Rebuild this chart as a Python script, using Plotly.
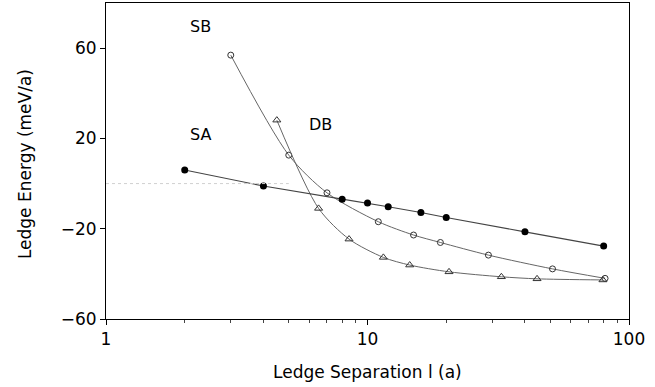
import plotly.graph_objects as go

# Data
sa_x = [2, 4, 8, 10, 12, 16, 20, 40, 80]
sa_y = [6.0, -1.1, -6.9, -8.6, -10.3, -12.8, -15.0, -21.4, -27.7]

sb_x = [3, 5, 7, 11, 15, 19, 29, 51, 81]
sb_y = [56.9, 12.6, -4.1, -16.9, -22.8, -26.1, -31.7, -37.8, -42.0]

db_x = [4.5, 6.5, 8.5, 11.5, 14.5, 20.5, 32.5, 44.5, 79.5]
db_y = [28.1, -11.0, -24.6, -32.7, -36.1, -39.1, -41.3, -42.2, -42.7]

y_ticks = [-60, -20, 20, 60]
x_ticks = [1, 10, 100]

FONT = "DejaVu Sans"

fig = go.Figure()
fig.add_trace(go.Scatter(
    x=sb_x, y=sb_y, mode="lines+markers",
    line=dict(color="#666666", width=1, shape="spline", smoothing=0.8),
    marker=dict(symbol="circle-open", size=6, color="#333333", line=dict(width=1)),
    showlegend=False))
fig.add_trace(go.Scatter(
    x=db_x, y=db_y, mode="lines+markers",
    line=dict(color="#666666", width=1, shape="spline", smoothing=0.8),
    marker=dict(symbol="triangle-up-open", size=7, color="#333333", line=dict(width=1)),
    showlegend=False))
fig.add_trace(go.Scatter(
    x=sa_x, y=sa_y, mode="lines+markers",
    line=dict(color="#444444", width=1.1),
    marker=dict(symbol="circle", size=7, color="black"),
    showlegend=False))

# faint dotted zero line at the left
fig.add_shape(type="line", xref="x", yref="y", x0=1, x1=5, y0=0, y1=0,
              line=dict(color="#d0d0d0", width=1, dash="dot"))

# annotation x positions on a log axis are given in log10 units
for txt, xv, yv in [("SB", 0.36, 69.7), ("SA", 0.36, 21.9), ("DB", 0.822, 26.3)]:
    fig.add_annotation(x=xv, y=yv, xref="x", yref="y",
                       text=txt, showarrow=False,
                       font=dict(family=FONT, size=16, color="black"))

# axis titles
fig.add_annotation(xref="paper", yref="paper", x=0.5, y=-0.168, yanchor="middle",
                   text="Ledge Separation l (a)", showarrow=False,
                   font=dict(family=FONT, size=17, color="black"))
fig.add_annotation(xref="paper", yref="paper", x=-0.155, y=0.49, xanchor="center",
                   yanchor="middle", textangle=-90,
                   text="Ledge Energy (meV/a)", showarrow=False,
                   font=dict(family=FONT, size=17, color="black"))

fig.update_layout(
    width=655, height=387,
    margin=dict(l=106, r=26, t=3, b=68, autoexpand=False),
    paper_bgcolor="white", plot_bgcolor="white",
    font=dict(family=FONT, size=17, color="black"),
)
fig.update_xaxes(
    type="log", range=[0, 2], automargin=False,
    tickvals=x_ticks, ticktext=[str(v) for v in x_ticks],
    ticks="outside", ticklen=5, tickcolor="black",
    minor=dict(ticks="outside", ticklen=3, tickcolor="#444444",
               tickvals=[2, 3, 4, 5, 6, 7, 8, 9, 20, 30, 40, 50, 60, 70, 80, 90]),
    showline=True, linecolor="black", linewidth=1, mirror=True,
    showgrid=False, zeroline=False,
)
fig.update_yaxes(
    range=[-60, 80], tickvals=y_ticks, automargin=False,
    ticks="outside", ticklen=5, tickcolor="black",
    showline=True, linecolor="black", linewidth=1, mirror=True,
    showgrid=False, zeroline=False,
)

fig.write_html("out.html",
               config={"displayModeBar": False},
               post_script="document.body.style.margin='0';document.body.style.overflow='hidden';")
